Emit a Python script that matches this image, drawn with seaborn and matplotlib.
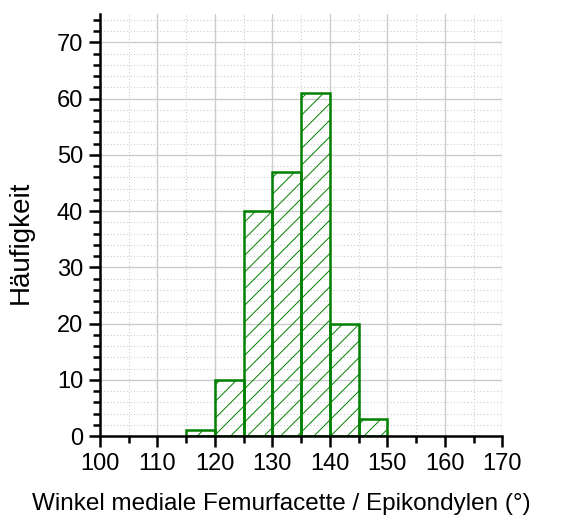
import matplotlib
matplotlib.use("Agg")
import matplotlib.pyplot as plt
from matplotlib.ticker import MultipleLocator
import seaborn as sns

# Histogram of medial femoral facet / epicondylar angles
bin_edges = [115, 120, 125, 130, 135, 140, 145, 150]
counts = [1, 10, 40, 47, 61, 20, 3]
bin_centers = [(a + b) / 2 for a, b in zip(bin_edges[:-1], bin_edges[1:])]

x_label = "Winkel mediale Femurfacette / Epikondylen (°)"
y_label = "Häufigkeit"

sns.set_style("white")
plt.rcParams["font.family"] = ["Liberation Sans", "DejaVu Sans"]
plt.rcParams["text.color"] = "black"
plt.rcParams["axes.labelcolor"] = "black"
plt.rcParams["xtick.color"] = "black"
plt.rcParams["ytick.color"] = "black"
plt.rcParams["hatch.color"] = "#119911"
plt.rcParams["hatch.linewidth"] = 0.7

fig = plt.figure(figsize=(5.74, 5.26), dpi=100)
ax = fig.add_axes([0.174, 0.171, 0.701, 0.802])

sns.histplot(x=bin_centers, weights=counts, bins=bin_edges, ax=ax,
             fill=False, element="bars", color="#008000", linewidth=1.8,
             hatch="//")
for p in ax.patches:
    p.set_edgecolor("#008000")
    p.set_hatch("//")

ax.set_xlim(100, 170)
ax.set_ylim(0, 75)
ax.xaxis.set_major_locator(MultipleLocator(10))
ax.xaxis.set_minor_locator(MultipleLocator(5))
ax.yaxis.set_major_locator(MultipleLocator(10))
ax.yaxis.set_minor_locator(MultipleLocator(2))

ax.grid(which="major", color="#cccccc", linewidth=1.0, linestyle="-")
ax.grid(which="minor", color="#cccccc", linewidth=0.8, linestyle=(0, (1, 2)))
ax.set_axisbelow(True)

for s in ["top", "right"]:
    ax.spines[s].set_visible(False)
for s in ["left", "bottom"]:
    ax.spines[s].set_linewidth(1.8)
    ax.spines[s].set_color("black")

ax.tick_params(which="major", direction="out", length=8, width=1.8,
               labelsize=17, left=True, bottom=True, pad=4)
ax.tick_params(which="minor", direction="out", length=5, width=1.8,
               left=True, bottom=True)

ax.set_xlabel(x_label, fontsize=17.5)
ax.set_ylabel(y_label, fontsize=20)
ax.xaxis.set_label_coords(0.45, -0.135)
ax.yaxis.set_label_coords(-0.165, 0.46)

fig.savefig("out.png", dpi=100)
